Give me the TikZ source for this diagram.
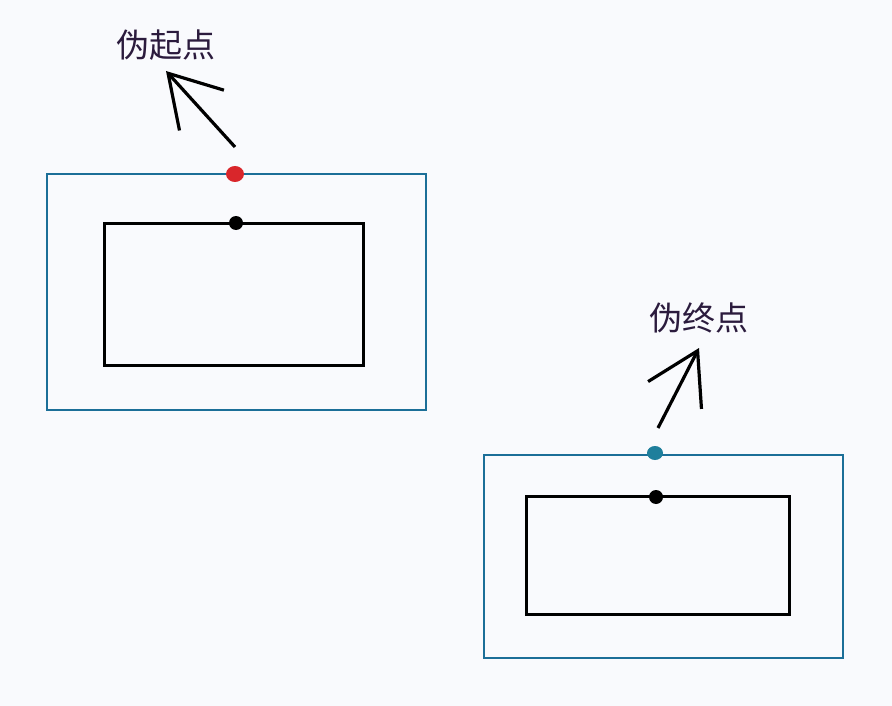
\documentclass[tikz,border=0pt]{standalone}
\usepackage{fontspec}
\newfontfamily\cjk{Noto Sans CJK SC}
\usepackage{tikz}
\usetikzlibrary{arrows.meta}
\definecolor{frameblue}{HTML}{1C6F98}
\definecolor{dotteal}{HTML}{1F7F9C}
\definecolor{dotred}{HTML}{D9262B}
\definecolor{labelink}{HTML}{2B1B3D}
\definecolor{paper}{HTML}{F9FAFD}

\begin{document}
\begin{tikzpicture}[x=1pt,y=-1pt,
                    outer/.style={draw=frameblue,line width=2pt},
                    inner/.style={draw=black,line width=3pt},
                    pointer/.style={-{Straight Barb[length=50pt,width=60pt]},line width=3.2pt},
                    lbl/.style={text=labelink,font=\cjk\fontsize{33}{36}\selectfont,inner sep=0pt}]
  \fill[paper] (0,0) rectangle (892,706);
  \useasboundingbox (0,0) rectangle (892,706);

  % first pair of frames
  \draw[outer] (47,174) rectangle (426,410);
  \draw[inner] (104,223) rectangle (363,365);
  \fill[dotred] (235,174) ellipse (9pt and 8pt);
  \fill[black] (236,223) circle (7pt);
  \coordinate (S0) at (235,147);
  \coordinate (S1) at (166,71);
  \node[lbl] (start) at (166,45) {伪起点};

  % second pair of frames
  \draw[outer] (484,455) rectangle (843,658);
  \draw[inner] (526,496) rectangle (789,614);
  \fill[dotteal] (655,453) ellipse (8pt and 7pt);
  \fill[black] (656,497) circle (7pt);
  \coordinate (E0) at (658,428);
  \coordinate (E1) at (699,348);
  \node[lbl] (end) at (699,318) {伪终点};

  \path (S0) edge[pointer] (S1)
        (E0) edge[pointer] (E1);
\end{tikzpicture}
\end{document}
